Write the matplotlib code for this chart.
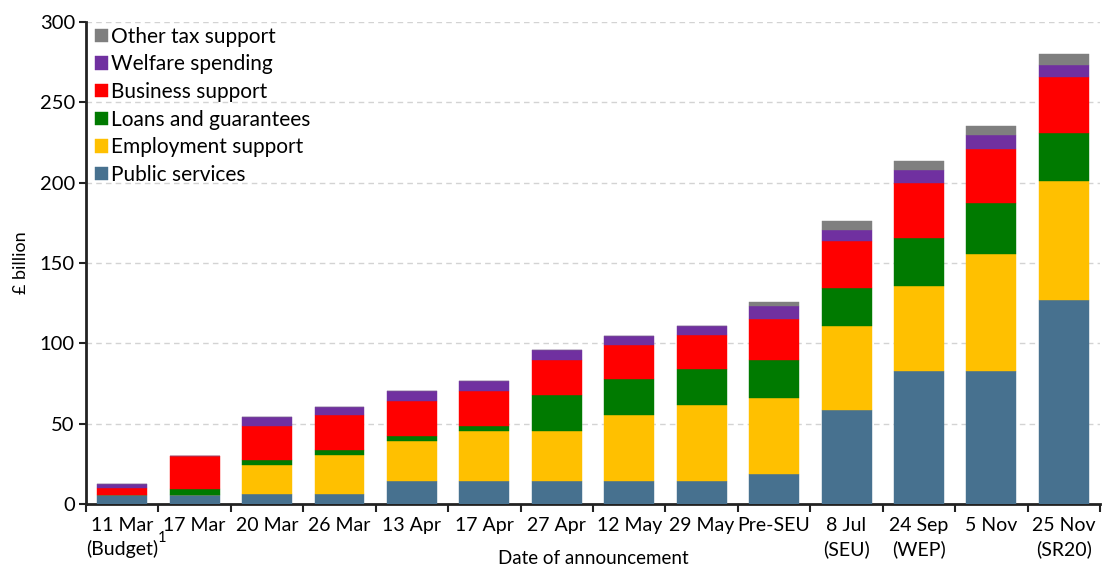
import matplotlib
matplotlib.use("Agg")
import matplotlib.pyplot as plt
import numpy as np

plt.rcParams['font.family'] = ['Lato', 'DejaVu Sans']

dates = ["11 Mar\n(Budget)", "17 Mar", "20 Mar", "26 Mar", "13 Apr", "17 Apr",
         "27 Apr", "12 May", "29 May", "Pre-SEU", "8 Jul\n(SEU)", "24 Sep\n(WEP)",
         "5 Nov", "25 Nov\n(SR20)"]

public_services = [5.6, 5.6, 6.0, 6.0, 14.3, 14.3, 14.3, 14.3, 14.3, 18.9, 58.5, 83.0, 83.0, 126.9]
employment_support = [0, 0, 18.1, 24.5, 24.7, 31.1, 31.1, 40.9, 47.1, 46.9, 52.3, 52.7, 72.6, 73.9]
loans_guarantees = [0, 3.5, 3.3, 3.3, 3.3, 3.3, 22.4, 22.4, 22.6, 23.6, 23.8, 29.6, 31.5, 29.9]
business_support = [4.5, 20.6, 21.3, 21.4, 21.6, 21.4, 21.6, 21.3, 21.4, 25.5, 28.8, 34.3, 33.8, 35.2]
welfare_spending = [2.3, 0, 5.4, 5.3, 6.4, 6.4, 6.4, 5.6, 5.6, 8.5, 7.3, 8.4, 8.7, 7.5]
other_tax_support = [0, 0, 0, 0, 0, 0, 0, 0, 0, 2.5, 5.6, 5.6, 5.4, 6.6]

series = [
    ("Public services", public_services, "#47718F"),
    ("Employment support", employment_support, "#FFC000"),
    ("Loans and guarantees", loans_guarantees, "#007A00"),
    ("Business support", business_support, "#FF0000"),
    ("Welfare spending", welfare_spending, "#7030A0"),
    ("Other tax support", other_tax_support, "#7F7F7F"),
]

fig = plt.figure(figsize=(11.04, 5.67), dpi=100)
ax = fig.add_axes([0.0779, 0.1111, 0.9185, 0.8501])

x = np.arange(len(dates))
bottom = np.zeros(len(dates))
handles = []
for name, vals, col in series:
    v = np.array(vals, dtype=float)
    b = ax.bar(x, v, 0.69, bottom=bottom, color=col, label=name, zorder=3,
               edgecolor=col, linewidth=0.3)
    handles.append(b)
    bottom += v

ax.set_xlim(-0.5, len(dates) - 0.5)
ax.set_ylim(0, 300)
ax.set_yticks(np.arange(0, 301, 50))
ax.tick_params(axis='y', labelsize=14.5, length=5, width=1.5, color='#222222', pad=3)

# category boundaries carry the x ticks
ax.set_xticks(np.arange(-0.5, len(dates) - 0.4, 1))
ax.set_xticklabels([])
ax.set_xticks(x, minor=True)
ax.set_xticklabels(dates, minor=True, fontsize=14, linespacing=1.45)
ax.tick_params(axis='x', which='major', length=6, width=1.5, color='#222222')
ax.tick_params(axis='x', which='minor', length=0, pad=9)

# footnote marker beside the Budget label
fig.text(158 / 1104, 1 - 538 / 567, "1", fontsize=10.5, ha='left', va='center')

for s in ['top', 'right']:
    ax.spines[s].set_visible(False)
for s in ['left', 'bottom']:
    ax.spines[s].set_linewidth(2)
    ax.spines[s].set_color('#222222')

for yv in range(50, 301, 50):
    ax.axhline(yv, color='#D3D3D3', linestyle=(0, (4, 3)), linewidth=1, zorder=1)

ax.set_ylabel("£ billion", fontsize=13, labelpad=8)
fig.text(593 / 1104, 1 - 558 / 567, "Date of announcement", fontsize=13.5,
         ha='center', va='center')

leg = ax.legend(handles[::-1], [s[0] for s in series][::-1], loc='upper left',
                bbox_to_anchor=(0.0, 1.01), frameon=False, fontsize=15,
                handlelength=0.6, handleheight=0.6, handletextpad=0.17,
                labelspacing=0.37, borderaxespad=0.2, borderpad=0.25)

fig.savefig("out.png", dpi=100)
